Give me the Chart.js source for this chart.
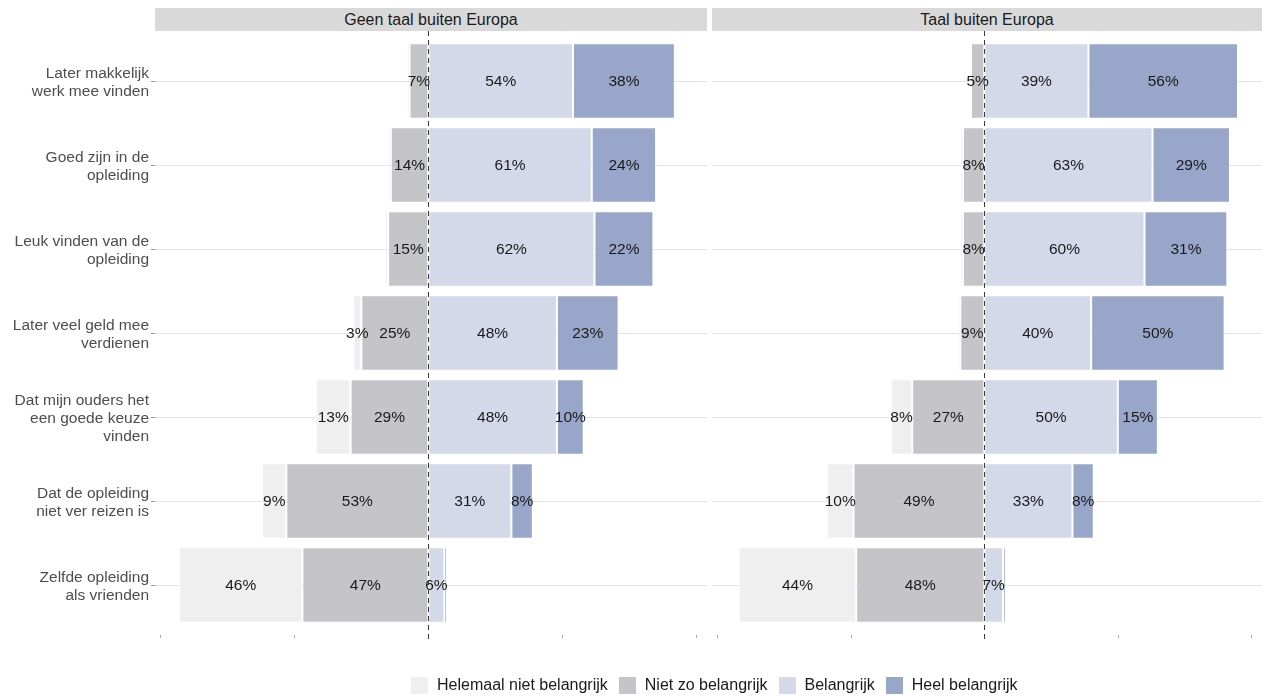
<!DOCTYPE html>
<html>
<head>
<meta charset="utf-8">
<script src="https://cdn.jsdelivr.net/npm/chart.js@4"></script>
<style>
body{margin:0;background:#fff;font-family:'Liberation Sans',Arial,sans-serif;}
#wrap{position:relative;width:1262px;height:697px;overflow:hidden}
.box{position:absolute;top:0;height:697px}
.strip{position:absolute;top:8px;height:23px;background:#d9d9d9;color:#1a1a1a;font-size:16px;line-height:23px;text-align:center}
#legend{position:absolute;left:411px;top:676px;display:flex;align-items:center;font-size:16px;color:#1a1a1a}
#legend span.sw{display:inline-block;width:17px;height:17px;margin-right:9px}
#legend span.it{display:flex;align-items:center;margin-right:11px}
</style>
</head>
<body>
<div id="wrap">
  <div class="box" style="left:0;width:708px"><canvas id="cLeft"></canvas></div>
  <div class="box" style="left:708px;width:554px"><canvas id="cRight"></canvas></div>
  <div class="strip" style="left:155px;width:552px">Geen taal buiten Europa</div>
  <div class="strip" style="left:712px;width:550px">Taal buiten Europa</div>
  <div id="legend"></div>
</div>
<script>
const categories = [
  ['Later makkelijk','werk mee vinden'],
  ['Goed zijn in de','opleiding'],
  ['Leuk vinden van de','opleiding'],
  ['Later veel geld mee','verdienen'],
  ['Dat mijn ouders het','een goede keuze','vinden'],
  ['Dat de opleiding','niet ver reizen is'],
  ['Zelfde opleiding','als vrienden']
]
const seriesNames = ['Helemaal niet belangrijk','Niet zo belangrijk','Belangrijk','Heel belangrijk']
const seriesColors = ['#efefef','#c5c4c8','#d3d9e9','#97a6c9']

// Geen taal buiten Europa
const geenHelemaal   = [1, 1, 1, 3, 13, 9, 46]
const geenNietZo     = [7, 14, 15, 25, 29, 53, 47]
const geenBelangrijk = [54, 61, 62, 48, 48, 31, 6]
const geenHeel       = [38, 24, 22, 23, 10, 8, 1]

// Taal buiten Europa
const taalHelemaal   = [0.5, 1, 1, 1, 8, 10, 44]
const taalNietZo     = [5, 8, 8, 9, 27, 49, 48]
const taalBelangrijk = [39, 63, 60, 40, 50, 33, 7]
const taalHeel       = [56, 29, 31, 50, 15, 8, 1]

const xTicks = [-100, -50, 0, 50, 100]
const xMin = -102, xMax = 104

Chart.defaults.font.family = "'Liberation Sans', Arial, sans-serif"

function makeSets(hel, niet, bel, heel){
  // negative side: "niet zo" sits next to zero, "helemaal niet" further out
  const mk = (label, data, color) => ({label, data, backgroundColor:color, borderColor:'rgba(255,255,255,0.5)', borderWidth:1, borderSkipped:false})
  return [
    mk(seriesNames[1], niet.map(v=>-v), seriesColors[1]),
    mk(seriesNames[0], hel.map(v=>-v), seriesColors[0]),
    mk(seriesNames[2], bel, seriesColors[2]),
    mk(seriesNames[3], heel, seriesColors[3])
  ]
}

const decor = {
  id:'decor',
  afterDatasetsDraw(chart){
    const ctx = chart.ctx, xs = chart.scales.x, a = chart.chartArea
    ctx.save()
    // value labels
    ctx.font = "15.5px 'Liberation Sans', Arial, sans-serif"
    ctx.fillStyle = '#1a1a1a'
    ctx.textAlign = 'center'; ctx.textBaseline = 'middle'
    chart.data.datasets.forEach((ds,i)=>{
      chart.getDatasetMeta(i).data.forEach((bar,j)=>{
        const v = Math.abs(ds.data[j])
        if(v < 3) return
        ctx.fillText(Math.round(v)+'%', (bar.x+bar.base)/2, bar.y+1)
      })
    })
    // small x tick marks below panel
    ctx.strokeStyle = '#aaa'; ctx.lineWidth = 1
    xTicks.forEach(t=>{
      const px = Math.round(xs.getPixelForValue(t))+0.5
      ctx.beginPath(); ctx.moveTo(px, a.bottom+8); ctx.lineTo(px, a.bottom+11); ctx.stroke()
    })
    // dashed zero line
    const z = Math.round(xs.getPixelForValue(0))+0.5
    ctx.strokeStyle = '#3a3a3a'; ctx.setLineDash([5,4])
    ctx.beginPath(); ctx.moveTo(z, a.top-8); ctx.lineTo(z, a.bottom+12); ctx.stroke()
    ctx.restore()
  }
}

function build(id, sets, showLabels, padLeft){
  return new Chart(document.getElementById(id), {
    type:'bar',
    data:{labels:categories, datasets:sets},
    plugins:[decor],
    options:{
      indexAxis:'y',
      responsive:true, maintainAspectRatio:false, animation:false,
      layout:{padding:{top:39, bottom:70, left:padLeft, right:showLabels?1:0}},
      plugins:{legend:{display:false}, tooltip:{enabled:false}},
      datasets:{bar:{categoryPercentage:0.9, barPercentage:1}},
      scales:{
        x:{
          display:false, stacked:true, min:xMin, max:xMax,
          afterBuildTicks:(ax)=>{ax.ticks = xTicks.map(v=>({value:v}))}
        },
        y:{
          stacked:true,
          border:{display:false},
          grid:{offset:false, color:'#e3e3e3', drawTicks:showLabels, tickLength:4, tickColor:'#999'},
          ticks:{display:showLabels, color:'#4d4d4d', padding:2, labelOffset:2, font:{size:15.5, lineHeight:1.16}},
          afterFit:(ax)=>{ax.width = showLabels ? 155 : 0}
        }
      }
    }
  })
}

build('cLeft', makeSets(geenHelemaal, geenNietZo, geenBelangrijk, geenHeel), true, 0)
build('cRight', makeSets(taalHelemaal, taalNietZo, taalBelangrijk, taalHeel), false, 4)

const lg = document.getElementById('legend')
seriesNames.forEach((n,i)=>{
  const it = document.createElement('span'); it.className = 'it'
  it.innerHTML = '<span class="sw" style="background:'+seriesColors[i]+'"></span>'+n
  lg.appendChild(it)
})
</script>
</body>
</html>
